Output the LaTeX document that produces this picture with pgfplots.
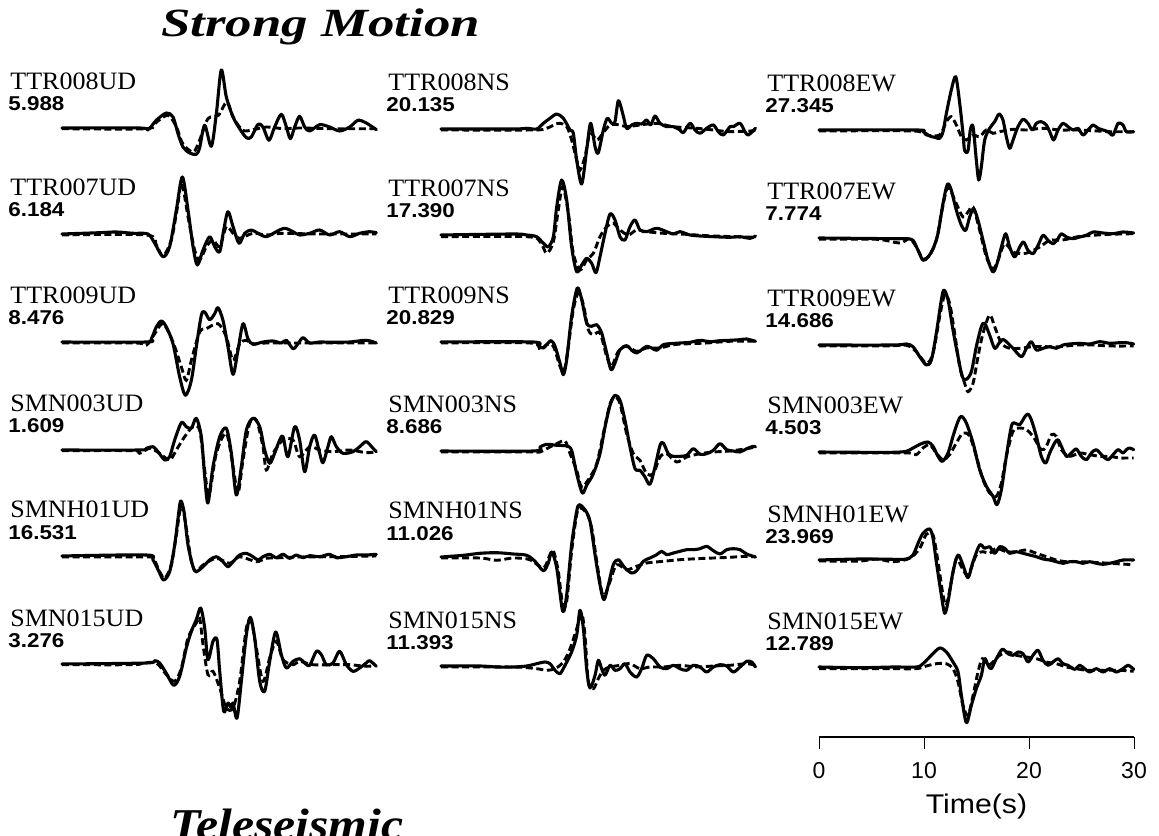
\documentclass[border=0pt]{standalone}
\usepackage{pgfplots}
\pgfplotsset{compat=1.18}
\usepackage{fontspec}
\setmainfont{Liberation Serif}
\setsansfont{Liberation Sans}
\pgfplotsset{
  panel/.style={hide axis, scale only axis, width=157.5pt, height=60pt,
    xmin=0, xmax=30, ymin=-60, ymax=60, clip=false, anchor=origin},
  obs/.style={black, line width=1.55pt, line join=round, line cap=round, smooth, tension=0.5},
  syn/.style={black, line width=1.45pt, dash pattern=on 3.5pt off 1.8pt, smooth, tension=0.5},
}
\newcommand{\stlabel}[4]{% x, ybase, name, number
  \node[anchor=base west, inner sep=0pt] at ({#1*0.5pt},{(835-#2+38)*0.5pt})
    {\scalebox{1.04}[1]{\fontsize{12.5}{14}\selectfont #3}};
  \node[anchor=base west, inner sep=0pt] at ({(#1-2)*0.5pt},{(835-#2+17)*0.5pt})
    {\scalebox{1.12}[1]{\fontsize{10}{11}\selectfont\sffamily\bfseries #4}};
}
\begin{document}
\begin{tikzpicture}
\useasboundingbox (0,0) rectangle (579.5pt,417.5pt);
\clip (0,0) rectangle (579.5pt,417.5pt);

\node[anchor=base west, inner sep=0pt] at ({161*0.5pt},{(835-37)*0.5pt})
  {\scalebox{1.32}[1]{\fontsize{20}{23}\selectfont\bfseries\itshape Strong Motion}};
\node[anchor=base west, inner sep=0pt] at ({170*0.5pt},{(835-839)*0.5pt})
  {\scalebox{1.13}[1]{\fontsize{22}{25}\selectfont\bfseries\itshape Teleseismic}};

% ---------- Column 1 (UD) ----------
\stlabel{10}{128}{TTR008UD}{5.988}
\begin{axis}[panel, at={({62*0.5pt},{(835-128)*0.5pt})}]
\addplot[obs] coordinates {(0,0) (7.40,0) (8.19,-1.7) (8.98,7.7) (9.94,15) (10.57,11) (11.05,-5.7) (11.52,-19) (12.16,-25) (12.79,-26.3) (13.11,-19.7) (13.59,2.7) (14.22,-18.3) (14.70,14.3) (15.17,58) (15.65,31) (16.29,11) (16.92,-0.7) (17.56,-9.7) (18.03,-9) (18.67,3.7) (19.14,1) (19.71,-12.3) (20.25,1) (20.89,13.7) (21.37,1) (21.75,-10.7) (22.16,1) (22.63,11.7) (23.11,1) (23.59,-3) (24.54,3.3) (25.49,1) (26.44,-3) (27.40,1) (28.19,7.7) (28.98,5) (29.94,-1.7)};
\addplot[syn] coordinates {(0,-0.7) (8.0,-0.7) (9.0,6) (10.1,12.7) (10.9,1) (11.5,-15.7) (12.5,-24) (13.1,-12.3) (13.9,9.3) (14.9,12.7) (15.7,26) (16.3,11) (17.2,-2.3) (18.2,-1.7) (19.5,1) (21.1,-0.7) (22.6,0) (25.8,-0.7) (29.9,-0.7)};
\end{axis}

\stlabel{10}{234}{TTR007UD}{6.184}
\begin{axis}[panel, at={({62*0.5pt},{(835-234)*0.5pt})}]
\addplot[obs] coordinates {(0,0) (3.59,1.3) (5.17,2) (6.76,0.7) (8.19,0) (8.83,-9.3) (9.62,-22.7) (10.25,-12.7) (10.89,24) (11.46,57) (12.0,24) (12.48,-12.7) (12.89,-31) (13.43,-16) (14.06,-2.7) (14.54,-12.7) (15.02,-17.7) (15.40,4) (15.81,22.3) (16.29,7.3) (16.86,-9.3) (17.40,0.7) (18.03,4) (18.67,0.7) (19.46,-2.7) (20.41,2.3) (21.21,5.7) (22.0,2.3) (22.63,-1) (23.59,0.7) (24.54,4) (25.49,-1) (26.44,2.3) (27.40,-2.7) (28.35,0.7) (29.30,2.3) (29.94,1.3)};
\addplot[syn] coordinates {(0,-1) (8.03,-1) (8.98,-11) (9.62,-22) (10.41,-6) (10.95,24) (11.40,50.7) (12.0,17.3) (12.63,-16) (13.11,-26) (13.75,-12.7) (14.38,-6) (15.02,-12.7) (15.65,7.3) (16.29,0.7) (16.92,-4.3) (18.19,0.7) (19.46,-1) (21.05,0.7) (24.22,0) (29.94,0)};
\end{axis}

\stlabel{10}{342}{TTR009UD}{8.476}
\begin{axis}[panel, at={({62*0.5pt},{(835-342)*0.5pt})}]
\addplot[obs] coordinates {(0,0) (8.03,0) (8.51,3.3) (8.98,15) (9.46,21) (9.94,15) (10.57,-1.7) (11.21,-35) (11.75,-53.3) (12.32,-38.3) (12.79,-5) (13.27,26.7) (13.59,30) (14.06,22.3) (14.54,28.3) (14.86,34.3) (15.33,21.7) (15.81,-5) (16.29,-32.3) (16.76,-8.3) (17.24,18.3) (17.71,3.3) (18.19,-2.3) (19.14,0) (20.10,1) (20.89,-1) (21.37,1.7) (22.0,-6.7) (22.48,-1.7) (22.95,4.3) (23.59,-1) (24.54,0) (25.81,-0.3) (27.40,0) (28.98,1.7) (29.94,-1)};
\addplot[syn] coordinates {(0,-1) (7.08,-1) (8.03,-3.3) (8.83,8.3) (9.62,18.3) (10.57,0) (11.37,-25) (11.84,-38.3) (12.32,-18.3) (13.11,10) (13.75,13.3) (14.86,18.3) (15.65,5) (16.29,-18.3) (16.92,-1.7) (17.56,1.7) (18.19,-1.7) (19.46,-1) (22.63,-1) (29.94,-1)};
\end{axis}

\stlabel{10}{450}{SMN003UD}{1.609}
\begin{axis}[panel, at={({62*0.5pt},{(835-450)*0.5pt})}]
\addplot[obs] coordinates {(0,0) (7.40,0) (8.03,1.7) (8.67,3.3) (9.14,-1.7) (9.78,-10) (10.25,-6.7) (10.73,10) (11.37,27.3) (11.84,23.3) (12.32,21.7) (12.79,31.7) (13.27,13.3) (13.59,-26.7) (13.90,-53) (14.38,-16.7) (15.02,13.3) (15.65,21.7) (16.13,-3.3) (16.60,-45) (17.08,-16.7) (17.56,20) (18.19,31.7) (18.83,23.3) (19.30,0) (19.78,-13.3) (20.25,-3.3) (20.73,10) (21.05,13.3) (21.52,-6.7) (22.16,23.3) (22.63,10) (23.11,-21.7) (23.59,3.3) (24.06,15) (24.54,-3.3) (24.86,-12.7) (25.33,3.3) (25.65,13.3) (26.13,3.3) (26.76,-3.3) (27.71,-1.7) (28.35,3.3) (28.98,8.3) (29.62,1.7) (29.94,-1.7)};
\addplot[syn] coordinates {(0,-0.7) (6.76,-0.7) (7.40,-3.3) (8.35,1.7) (9.30,-3.3) (10.25,-10) (10.89,0) (11.68,13.3) (12.48,23.3) (13.11,20) (13.59,-20) (14.0,-45) (14.70,-3.3) (15.65,16.7) (16.29,-16.7) (16.76,-43.3) (17.24,-10) (17.87,26.7) (18.51,30) (19.14,3.3) (19.46,-20) (20.10,-3.3) (21.05,10) (22.0,10) (22.63,-6.7) (23.59,3.3) (24.54,0) (25.81,-1.7) (27.40,0) (28.98,-2.7) (29.94,-1.7)};
\end{axis}

\stlabel{10}{556}{SMNH01UD}{16.531}
\begin{axis}[panel, at={({62*0.5pt},{(835-556)*0.5pt})}]
\addplot[obs] coordinates {(0,0) (8.03,1) (8.67,-4) (9.24,-15.7) (9.68,-24) (10.25,-15.7) (10.73,11) (11.05,37.7) (11.30,55) (11.62,44.3) (12.0,11) (12.48,-10.7) (12.79,-15.7) (13.43,-10.7) (14.06,-4) (14.70,-0.7) (15.33,-5.7) (15.81,-10.7) (16.29,-5.7) (16.92,1) (17.56,2.7) (18.19,-0.7) (18.67,-4) (19.14,-0.7) (19.78,1.7) (20.41,-1.7) (21.05,1.7) (21.68,-2.3) (22.32,1) (22.95,-1.7) (23.59,0.3) (24.54,-0.7) (25.49,1.7) (26.13,-1.7) (27.08,-0.7) (28.03,1) (28.98,1) (29.94,1.7)};
\addplot[syn] coordinates {(0,-1) (7.71,-1) (8.67,-2.3) (9.30,-15.7) (9.78,-22.3) (10.41,-9) (10.89,21) (11.37,51) (11.84,27.7) (12.32,-5.7) (12.79,-15.7) (13.43,-9) (14.70,-2.3) (15.97,-7.3) (16.92,-0.7) (18.51,-5.7) (19.46,-2.3) (21.05,-1.7) (22.63,-1) (25.81,-0.7) (29.94,0)};
\end{axis}

\stlabel{10}{664}{SMN015UD}{3.276}
\begin{axis}[panel, at={({62*0.5pt},{(835-664)*0.5pt})}]
\addplot[obs] coordinates {(0,0) (8.03,1) (8.83,3.3) (9.30,1) (9.94,-9.3) (10.63,-21.3) (11.21,-12.3) (11.84,16) (12.32,32.7) (12.79,44.3) (13.21,56) (13.59,36) (13.90,4.3) (14.38,22.7) (14.76,24.3) (15.02,-7.3) (15.40,-47.3) (15.81,-39) (16.13,-44) (16.29,-39) (16.67,-54) (17.08,-17.3) (17.56,29.3) (17.94,46.7) (18.35,26) (18.83,-17.3) (19.30,-27.3) (19.78,2.7) (20.35,32) (20.89,9.3) (21.37,-4) (22.0,2.7) (22.63,5.3) (23.11,1) (23.59,-1.3) (24.22,12.7) (24.70,9.3) (25.17,-0.7) (25.81,1) (26.44,12.7) (27.08,-0.7) (27.71,-7.3) (28.35,-4) (28.98,1) (29.30,3.3) (29.94,-2.3)};
\addplot[syn] coordinates {(0,-0.7) (6.76,-0.7) (7.71,1) (8.98,1) (9.94,-10.7) (10.73,-17.3) (11.37,-4) (12.0,26) (12.79,41) (13.11,46) (13.43,19.3) (13.90,-10.7) (14.38,-7.3) (15.02,-24) (15.65,-44) (16.29,-44) (16.92,-17.3) (17.56,36) (18.03,42.7) (18.51,16) (19.14,-17.3) (19.78,6) (20.41,22.7) (21.05,4.3) (22.0,-0.7) (22.63,2.7) (23.90,-0.7) (25.81,-0.7) (27.40,-0.7) (28.98,-2.3) (29.94,-1.3)};
\end{axis}

% ---------- Column 2 (NS) ----------
\stlabel{388}{129}{TTR008NS}{20.135}
\begin{axis}[panel, at={({441*0.5pt},{(835-129)*0.5pt})}]
\addplot[obs] coordinates {(0,0) (6.89,0) (8.16,0.7) (9.11,0) (9.75,5.7) (10.38,10.7) (11.02,15) (11.65,10.7) (12.29,-1) (12.60,-4.3) (12.92,-31) (13.40,-55) (13.87,-21) (14.25,5.7) (14.67,-17.7) (14.98,-23.7) (15.46,-1) (15.84,10.7) (16.25,5.7) (16.57,7.3) (16.89,28.3) (17.30,15.7) (17.68,0.7) (18.16,4) (18.63,5.7) (19.11,5) (19.59,9) (19.97,4) (20.38,13) (20.86,5.7) (21.49,2.3) (22.13,2.3) (22.76,-1) (23.08,-3.7) (23.71,5.7) (24.19,-1) (24.67,-4.3) (25.30,0.7) (25.94,4) (26.41,-2.7) (26.89,-6) (27.52,2.3) (27.84,2.3) (28.48,5.7) (28.95,-2.7) (29.27,-6) (29.95,0.7)};
\addplot[syn] coordinates {(0,-1) (8.79,-1) (10.06,0.7) (11.17,5.7) (11.97,2.3) (12.44,-11) (12.92,-31) (13.24,-41) (13.71,-27.7) (14.19,-4.3) (14.83,-11) (15.30,-6) (16.10,4) (17.05,4) (17.68,2.3) (18.95,4) (20.54,5.7) (22.13,2.3) (24.35,0.7) (25.94,-1) (27.52,-2.7) (29.95,-1.7)};
\end{axis}

\stlabel{388}{235}{TTR007NS}{17.390}
\begin{axis}[panel, at={({441*0.5pt},{(835-235)*0.5pt})}]
\addplot[obs] coordinates {(0,0) (6.89,1) (8.16,0) (9.11,-1.7) (9.75,-8.3) (10.22,-11.7) (10.70,-1.7) (11.02,28.3) (11.49,55) (11.97,35) (12.44,-11.7) (12.92,-36.7) (13.40,-30) (13.87,-23.3) (14.35,-28.3) (14.76,-37.7) (15.14,-21.7) (15.62,1.7) (16.10,21) (16.57,15) (17.05,-1.7) (17.52,-5) (18.00,8.3) (18.48,15) (18.95,5) (19.59,3.3) (20.54,6.7) (21.49,3.3) (22.13,1) (22.76,3.3) (23.71,0) (24.67,-1) (25.94,-1.7) (27.52,-2.3) (28.48,-1.7) (29.43,-3.3) (29.95,-1)};
\addplot[syn] coordinates {(0,-1.7) (8.16,-1.7) (9.43,-6.7) (10.06,-18.3) (10.70,-6.7) (11.17,25) (11.59,48.3) (12.13,21.7) (12.60,-18.3) (13.24,-35) (13.87,-25) (14.51,-18.3) (15.14,-1.7) (15.78,8.3) (16.41,11.7) (17.05,5) (17.84,0) (18.63,5) (19.59,3.3) (21.17,1.7) (22.76,1) (24.35,0) (25.94,-1) (29.95,-2.3)};
\end{axis}

\stlabel{388}{342}{TTR009NS}{20.829}
\begin{axis}[panel, at={({441*0.5pt},{(835-342)*0.5pt})}]
\addplot[obs] coordinates {(0,0) (8.79,0) (9.27,-4.3) (9.75,-6) (10.06,-2.7) (10.48,1.3) (10.86,-4.3) (11.33,-21) (11.65,-32.7) (11.97,-17.7) (12.44,25.7) (12.98,54) (13.40,42.3) (13.87,19) (14.35,15.7) (14.83,17.3) (15.30,9) (15.78,-11) (16.19,-27.7) (16.57,-21) (17.05,-7.7) (17.68,-3.7) (18.16,-8.3) (18.63,-11) (19.11,-7.7) (19.59,-4.3) (20.06,-6) (20.54,-8.3) (21.17,-2.7) (21.81,-1.7) (22.76,-1) (23.71,-0.3) (24.67,1.7) (25.62,0.3) (26.57,1.3) (27.52,1.7) (28.48,2.3) (29.11,3) (29.95,0.7)};
\addplot[syn] coordinates {(0,-1) (8.48,-1) (9.43,-7.7) (10.06,-2.7) (10.70,-4.3) (11.33,-24.3) (11.71,-29.3) (12.13,-4.3) (12.60,32.3) (13.08,49) (13.56,37.3) (14.03,12.3) (14.51,7.3) (15.14,9) (15.78,-14.3) (16.25,-24.3) (16.89,-9.3) (17.68,-4.3) (18.63,-9.3) (19.59,-6) (20.86,-6) (22.13,-2.7) (23.71,-1.7) (25.30,-1) (27.52,0.7) (29.95,0.7)};
\end{axis}

\stlabel{388}{451}{SMN003NS}{8.686}
\begin{axis}[panel, at={({441*0.5pt},{(835-451)*0.5pt})}]
\addplot[obs] coordinates {(0,0) (8.79,0) (9.43,4) (10.06,6.7) (11.02,5.7) (11.97,5) (12.44,0.7) (12.92,-22.7) (13.46,-42) (13.87,-34.3) (14.51,-22.7) (15.14,-2.7) (15.62,24) (16.10,45.7) (16.57,55.7) (17.05,50.7) (17.52,30.7) (18.00,4) (18.48,-17.7) (18.95,-19.3) (19.43,-26) (19.90,-33.3) (20.38,-16) (20.86,5.7) (21.17,8) (21.65,-2.7) (22.13,-5.3) (22.76,-5.3) (23.40,-4.3) (24.03,2.3) (24.67,-3.3) (25.30,-2.7) (25.94,0.7) (26.57,7.3) (27.21,1.3) (27.84,0) (28.48,-1) (29.11,2.3) (29.75,4.7) (29.95,4)};
\addplot[syn] coordinates {(0,-1) (8.48,-1) (9.43,-1) (10.06,2.3) (11.02,7.3) (11.81,10) (12.29,-2.7) (12.92,-19.3) (13.40,-36) (14.19,-26) (14.83,-12.7) (15.46,17.3) (16.10,47.3) (16.57,54) (17.05,47.3) (17.68,17.3) (18.32,-2.7) (18.95,-9.3) (19.59,-22.7) (20.22,-22.7) (20.86,-6) (21.49,-2.7) (22.44,-11) (23.40,-6) (24.67,-2.7) (25.94,-1) (27.52,0) (29.11,2.3) (29.95,4)};
\end{axis}

\stlabel{388}{557}{SMNH01NS}{11.026}
\begin{axis}[panel, at={({441*0.5pt},{(835-557)*0.5pt})}]
\addplot[obs] coordinates {(0,0) (2.13,1.7) (3.71,3.7) (5.30,4.3) (6.89,3) (8.16,1.7) (8.95,-4.3) (9.75,-13.7) (10.22,-6) (10.54,5) (11.02,-11) (11.59,-54.3) (11.97,-37.7) (12.44,12.3) (12.92,45.7) (13.17,52.3) (13.71,47.3) (14.19,35.7) (14.67,2.3) (15.14,-27.7) (15.52,-42.7) (15.94,-27.7) (16.41,-7.7) (16.89,-2.7) (17.52,-11) (18.16,-16) (18.63,-13.7) (19.27,-4.3) (19.90,-1) (20.54,2.3) (21.02,5.7) (21.49,2.3) (22.13,4) (22.76,5.7) (23.40,7.3) (24.03,7.3) (24.67,8.3) (25.30,10.7) (25.94,6.3) (26.57,3) (27.21,7.3) (27.84,8.3) (28.48,7.3) (29.11,3) (29.95,0)};
\addplot[syn] coordinates {(0,-1) (3.71,-1) (5.30,-3.3) (6.89,-1) (8.48,-2.7) (9.75,-11) (10.38,2.3) (10.70,6.3) (11.17,-14.3) (11.59,-47.7) (11.97,-44.3) (12.44,5.7) (12.92,42.3) (13.24,49) (13.87,44) (14.35,29) (14.83,-4.3) (15.30,-34.3) (15.62,-37.7) (16.10,-24.3) (16.73,-7.7) (17.68,-12.7) (18.63,-9.3) (19.59,-6) (21.17,-4.3) (22.76,-2.7) (24.35,-1.7) (25.94,-1) (27.52,-0.3) (29.11,0.7) (29.95,0)};
\end{axis}

\stlabel{388}{666}{SMN015NS}{11.393}
\begin{axis}[panel, at={({441*0.5pt},{(835-666)*0.5pt})}]
\addplot[obs] coordinates {(0,0) (3.71,0) (5.30,-1) (6.89,-1) (8.16,0) (9.11,2.3) (9.90,4) (10.38,2.3) (10.86,-4.3) (11.33,-7.7) (11.81,0.7) (12.44,14) (12.92,30.7) (13.24,55.7) (13.56,37.3) (13.87,-2.7) (14.19,-22) (14.67,-9.3) (14.98,5.7) (15.30,-2.7) (15.62,-9.3) (16.10,0.7) (16.57,-4.3) (17.05,-2.7) (17.52,2.3) (18.00,-6) (18.63,-11) (19.11,-2.7) (19.59,10.7) (20.22,7.3) (20.86,-1) (21.49,-2.7) (22.13,0.7) (22.76,-2.7) (23.40,-4.3) (24.03,0.7) (24.67,-1) (25.30,-6) (25.94,-1) (26.57,1.3) (27.21,0) (27.84,-6) (28.48,-1) (29.11,4.7) (29.59,4) (29.95,-1)};
\addplot[syn] coordinates {(0,-1) (6.89,-1) (9.11,-2.7) (10.06,-4.3) (10.86,-2.7) (11.65,4) (12.29,17.3) (12.92,37.3) (13.40,52.3) (13.71,30.7) (14.03,-16) (14.51,-22.7) (14.98,-12.7) (15.46,-4.3) (16.10,-1) (17.05,0.7) (18.00,2.3) (18.95,-2.7) (19.90,-1) (21.17,-1) (22.76,0.7) (24.35,-1) (25.94,0) (27.52,0.7) (29.11,2.3) (29.95,0.7)};
\end{axis}

% ---------- Column 3 (EW) ----------
\stlabel{767}{130}{TTR008EW}{27.345}
\begin{axis}[panel, at={({819*0.5pt},{(835-130)*0.5pt})}]
\addplot[obs] coordinates {(0,0) (9.27,0) (9.90,-1.7) (10.54,-6) (11.02,-7.3) (11.49,-8.3) (11.81,-1.7) (12.13,16.7) (12.60,40) (13.02,53.3) (13.40,26.7) (13.71,-3.3) (13.87,-20.7) (14.19,-20.7) (14.41,0) (14.67,3.3) (14.98,-30) (15.21,-50) (15.46,-36.7) (15.78,-10) (16.25,1.7) (16.73,8.3) (17.14,16) (17.52,10) (17.84,-6.7) (18.16,-18.3) (18.48,-10) (18.95,3.3) (19.43,10.7) (19.90,6.7) (20.32,0) (20.70,6.7) (21.17,8.3) (21.65,5) (21.97,-1.7) (22.35,-10) (22.76,0) (23.24,6.7) (23.71,3.3) (24.19,0) (24.67,1.7) (25.14,-5) (25.62,0) (26.10,5) (26.57,1.7) (27.05,0) (27.52,-1.7) (28.00,-5) (28.48,6.7) (28.95,5) (29.27,-1.7) (29.97,-1.7)};
\addplot[syn] coordinates {(0,-1) (8.95,-1) (10.22,-5) (11.49,-5) (12.13,8.3) (12.60,13.3) (13.08,5) (13.56,-6.7) (14.03,-10) (14.67,-5) (15.30,-6.7) (15.94,0) (16.57,-3.3) (17.21,-1.7) (18.48,0.7) (19.75,0) (21.33,1.7) (22.92,0) (24.51,0) (26.10,-0.7) (27.68,-1.7) (29.97,-1.7)};
\end{axis}

\stlabel{767}{238}{TTR007EW}{7.774}
\begin{axis}[panel, at={({819*0.5pt},{(835-238)*0.5pt})}]
\addplot[obs] coordinates {(0,0) (7.05,-0.7) (8.32,-0.7) (8.95,-2.3) (9.43,-12.3) (9.90,-22.3) (10.38,-19) (10.86,-10.7) (11.33,4.3) (11.75,31) (12.06,47.7) (12.29,54.3) (12.60,47.7) (13.08,27.7) (13.56,12.7) (13.97,7.7) (14.35,21) (14.73,29.3) (15.14,17.7) (15.62,-2.3) (16.10,-22.3) (16.57,-34) (16.95,-25.7) (17.37,-9) (17.78,4.3) (18.16,-9) (18.63,-19) (19.11,-9) (19.49,-4) (19.90,-12.3) (20.38,-15.7) (20.86,-7.3) (21.33,2.7) (21.81,-2.3) (22.29,-5.7) (22.76,-0.7) (23.08,4.3) (23.56,1) (24.19,-0.7) (24.83,1) (25.46,2.7) (26.10,6) (27.05,5) (28.00,4.3) (28.95,6) (29.97,5)};
\addplot[syn] coordinates {(0,-1.3) (5.46,-1.3) (7.68,-5) (8.63,-0.7) (9.27,-9) (9.90,-20.7) (10.54,-17.3) (11.17,-2.3) (11.65,24.3) (12.13,47.7) (12.44,49.3) (13.08,34.3) (13.71,21) (14.19,26) (14.67,31) (15.30,7.7) (15.94,-19) (16.57,-30.7) (17.05,-22.3) (17.68,-5.7) (18.48,-14) (19.43,-15.7) (20.06,-14) (21.02,-9) (21.97,-2.3) (22.92,-2.3) (23.87,-0.7) (24.83,1.7) (26.10,2.7) (27.68,3.7) (29.97,4.3)};
\end{axis}

\stlabel{767}{345}{TTR009EW}{14.686}
\begin{axis}[panel, at={({819*0.5pt},{(835-345)*0.5pt})}]
\addplot[obs] coordinates {(0,0) (7.05,0) (8.32,1) (8.95,-1.7) (9.59,-11.7) (10.22,-20) (10.70,-15) (11.17,11.7) (11.65,45) (11.90,55) (12.29,45) (12.76,15) (13.24,-11.7) (13.65,-31.7) (14.03,-34.3) (14.51,-26.7) (14.98,-1.7) (15.46,18.3) (15.78,21.7) (16.25,10) (16.73,-3.3) (17.14,1.7) (17.52,5.7) (18.00,1.7) (18.48,-3.3) (19.27,-11.7) (19.75,-3.3) (20.22,3.3) (20.70,-5) (21.33,-3.3) (21.97,-1.7) (22.60,-3.3) (23.24,0) (23.87,1) (24.83,1.7) (25.78,1) (26.73,3.3) (27.68,1.7) (28.63,2.3) (29.27,2.3) (29.97,1)};
\addplot[syn] coordinates {(0,-1) (6.41,-1) (8.32,-0.3) (9.27,-6.7) (10.22,-18.3) (10.86,-8.3) (11.49,28.3) (11.97,50) (12.44,41.7) (12.92,11.7) (13.40,-21.7) (13.87,-38.3) (14.19,-46.7) (14.67,-38.3) (15.14,-11.7) (15.62,11.7) (16.25,30) (16.73,18.3) (17.37,1.7) (18.16,-3.3) (19.11,-3.3) (20.38,-1.7) (21.65,-1.7) (22.92,-1.7) (24.51,0) (26.10,0) (27.68,-1) (29.97,-1)};
\end{axis}

\stlabel{767}{452}{SMN003EW}{4.503}
\begin{axis}[panel, at={({819*0.5pt},{(835-452)*0.5pt})}]
\addplot[obs] coordinates {(0,0) (3.87,-0.3) (7.05,-0.3) (8.32,0.7) (8.95,4) (9.75,8.3) (10.38,10) (10.86,5.7) (11.33,-4.3) (11.75,-9.3) (12.29,-1) (12.76,15.7) (13.24,30.7) (13.56,35.7) (14.03,29) (14.67,9) (15.30,-17.7) (15.94,-34.3) (16.57,-44.3) (16.95,-52.7) (17.37,-37.7) (17.84,-4.3) (18.32,25.7) (18.63,29) (19.11,27.3) (19.59,35) (19.90,38) (20.22,32.3) (20.70,15.7) (21.17,-4.3) (21.59,-11) (21.97,-1) (22.44,9) (22.76,12.3) (23.08,5.7) (23.56,-4.3) (24.03,-1) (24.51,3) (24.98,-4.3) (25.46,-7.7) (25.94,-1) (26.41,2.3) (27.05,-4.3) (27.52,-7.7) (28.00,-2.7) (28.48,2.3) (28.95,-1) (29.27,2.3) (29.59,4) (29.97,2.3)};
\addplot[syn] coordinates {(0,-1) (7.05,-1) (8.63,-1) (9.27,-2.7) (9.90,4) (10.54,7.3) (11.17,-1) (11.81,-7.7) (12.44,-2.7) (13.08,9) (13.71,19) (14.35,15.7) (14.98,-4.3) (15.62,-27.7) (16.25,-41) (16.89,-44.3) (17.37,-31) (17.84,-4.3) (18.48,20.7) (19.11,24) (19.75,22.3) (20.38,15.7) (21.17,2.3) (21.65,5.7) (22.13,17.3) (22.60,15.7) (23.08,2.3) (23.87,-4.3) (24.83,-1) (25.78,-2.7) (26.73,-4.3) (27.68,-4.3) (28.63,-6) (29.27,-6) (29.97,-6)};
\end{axis}

\stlabel{767}{560}{SMNH01EW}{23.969}
\begin{axis}[panel, at={({819*0.5pt},{(835-560)*0.5pt})}]
\addplot[obs] coordinates {(0,0) (3.87,1) (7.05,0.7) (8.32,1) (8.95,5) (9.43,16.7) (9.90,26.7) (10.54,31) (10.86,21.7) (11.17,-1.7) (11.65,-35) (11.97,-53.3) (12.29,-41.7) (12.76,-11.7) (13.24,5) (13.71,-5) (14.19,-17.7) (14.67,-1.7) (15.30,15) (15.78,11.7) (16.25,13.3) (16.73,6.7) (17.21,13.3) (17.68,11.7) (18.16,6.7) (18.79,8.3) (19.43,6.7) (20.06,5) (20.70,3.3) (21.33,1) (21.97,0) (22.60,-1.7) (23.24,-3.3) (23.87,-1.7) (24.51,-1.7) (25.14,-3.3) (25.78,-1.7) (26.41,-3.3) (27.05,-4.3) (27.68,-3.3) (28.32,-1.7) (28.95,0) (29.97,0)};
\addplot[syn] coordinates {(0,-1) (3.87,-1) (5.46,1) (7.05,-1.7) (8.63,1.7) (9.59,11.7) (10.22,25.7) (10.86,25) (11.33,-1.7) (11.81,-35) (12.13,-45) (12.60,-21.7) (13.08,1.7) (13.56,-6.7) (14.19,-15) (14.98,5) (15.62,8.3) (16.25,6.7) (16.89,11.7) (17.84,8.3) (18.79,8.3) (19.75,10) (20.70,6.7) (21.65,3.3) (22.60,0) (23.56,-1.7) (24.83,-1.7) (26.10,-2.3) (27.68,-3.3) (29.27,-4.3) (29.97,-5)};
\end{axis}

\stlabel{767}{667}{SMN015EW}{12.789}
\begin{axis}[panel, at={({819*0.5pt},{(835-667)*0.5pt})}]
\addplot[obs] coordinates {(0,0) (3.87,-0.7) (7.05,0) (9.27,0) (9.90,3.3) (10.70,11.7) (11.49,19) (12.13,15) (12.76,5) (13.24,-5) (13.56,-28.3) (14.03,-55.7) (14.51,-38.3) (14.98,-21.7) (15.46,-8.3) (15.78,8.3) (16.10,1.7) (16.41,-1.7) (16.89,8.3) (17.46,17.7) (18.00,13.3) (18.48,11.7) (18.95,15) (19.43,13.3) (19.90,5) (20.38,11.7) (20.86,16.7) (21.33,6.7) (21.81,1.7) (22.29,5) (22.76,8.3) (23.24,3.3) (23.71,1.7) (24.35,-2.3) (24.83,1.7) (25.30,-1.7) (25.78,-5) (26.41,-1.7) (27.05,-5) (27.68,-1.7) (28.32,-5) (28.95,-1.7) (29.43,1.7) (29.97,-2.3)};
\addplot[syn] coordinates {(0,-1.7) (7.05,-1.7) (9.27,-1.7) (10.22,1) (11.17,3.3) (12.13,3.3) (12.76,-1.7) (13.24,-15) (13.71,-38.3) (14.19,-48.3) (14.67,-28.3) (15.14,-5) (15.56,8.3) (16.10,1.7) (16.57,5) (17.21,11.7) (18.00,15) (18.79,11.7) (19.75,10) (20.70,8.3) (21.65,5) (22.60,3.3) (23.56,0) (24.51,-1.7) (25.46,-3.3) (26.41,-3.3) (27.37,-3.3) (28.63,-3.3) (29.97,-4.3)};
\end{axis}

% ---------- Time scale ----------
\begin{axis}[scale only axis, width=157.5pt, height=10pt,
  xmin=0, xmax=30, ymin=0, ymax=1, clip=false,
  axis x line*=bottom, axis y line=none, anchor=origin,
  at={({819*0.5pt},{(835-737)*0.5pt})},
  xtick={0,10,20,30}, tick align=outside, major tick length=6pt,
  x axis line style={line width=0.9pt, black},
  tick style={line width=0.5pt, black},
  /pgf/number format/assume math mode=true,
  xticklabel style={font=\sffamily\fontsize{11.5}{13}\selectfont, yshift=-3pt},
  xlabel={\scalebox{1.12}[1]{Time(s)}},
  xlabel style={font=\sffamily\fontsize{13.5}{15}\selectfont, yshift=-1pt},
]
\addplot[draw=none] coordinates {(0,0) (30,0)};
\end{axis}
\end{tikzpicture}
\end{document}
